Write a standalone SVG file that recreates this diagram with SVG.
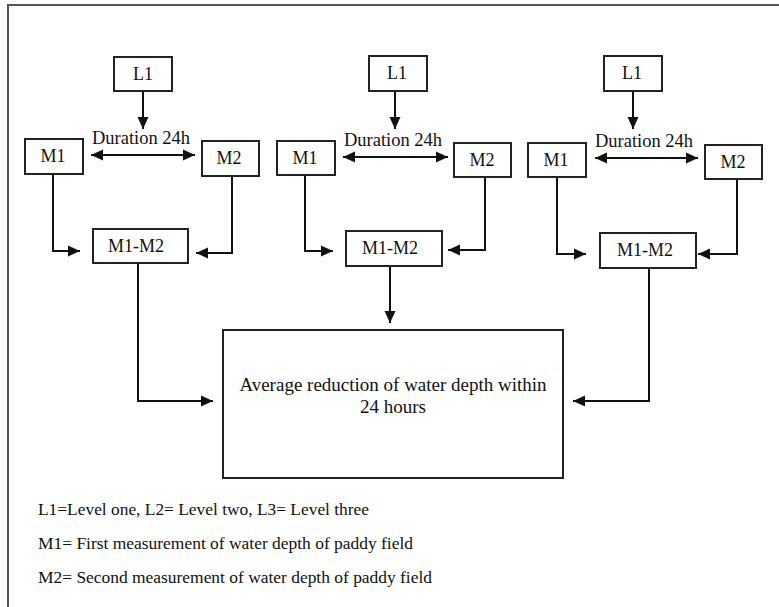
<svg xmlns="http://www.w3.org/2000/svg" width="779" height="607" viewBox="0 0 779 607">
<defs>
<marker id="ah" markerUnits="userSpaceOnUse" markerWidth="13" markerHeight="13" viewBox="0 0 13 13" refX="12" refY="6.5" orient="auto-start-reverse">
<path d="M0,1 L12,6.5 L0,12 z" fill="#111"/>
</marker>
<style>
rect.box{fill:#fff;stroke:#222;stroke-width:2}
.lbl{font-family:"Liberation Serif","Times New Roman",serif;font-size:18px;fill:#111;text-anchor:middle}
.dur{font-family:"Liberation Serif","Times New Roman",serif;font-size:18.5px;fill:#111;text-anchor:middle}
.big{font-family:"Liberation Serif","Times New Roman",serif;font-size:19px;fill:#111;text-anchor:middle}
.leg{font-family:"Liberation Serif","Times New Roman",serif;font-size:16px;fill:#111}
.c{fill:none;stroke:#111;stroke-width:2}
.ca{fill:none;stroke:#111;stroke-width:2;marker-end:url(#ah)}
.cd{fill:none;stroke:#111;stroke-width:2;marker-end:url(#ah);marker-start:url(#ah)}
</style>
</defs>
<path d="M8,607 V5 H779" fill="none" stroke="#555" stroke-width="2"/>

<g id="connectors">
<!-- panel 1 -->
<path class="ca" d="M143,91 V129"/>
<path class="cd" d="M91,155 H195"/>
<path class="ca" d="M53,174 V251 H80"/>
<path class="ca" d="M232,176 V253 H196"/>
<path class="ca" d="M138,263 V401 H213"/>
<!-- panel 2 -->
<path class="ca" d="M395,91 V129"/>
<path class="cd" d="M343,157 H448"/>
<path class="ca" d="M305,175 V251 H333"/>
<path class="ca" d="M485,177 V250 H448"/>
<path class="ca" d="M390,266 V323"/>
<!-- panel 3 -->
<path class="ca" d="M633,91 V129"/>
<path class="cd" d="M595,158 H698"/>
<path class="ca" d="M557,177 V254 H586"/>
<path class="ca" d="M737,179 V254 H698"/>
<path class="ca" d="M649,268 V401 H573"/>
</g>

<g id="duration1"><text class="dur" x="141" y="144">Duration 24h</text></g>
<g id="duration2"><text class="dur" x="393" y="146">Duration 24h</text></g>
<g id="duration3"><text class="dur" x="644" y="147">Duration 24h</text></g>

<g id="L1a"><rect class="box" x="114" y="57" width="58" height="34"/><text class="lbl" x="143" y="80">L1</text></g>
<g id="M1a"><rect class="box" x="25" y="139" width="58" height="35"/><text class="lbl" x="53" y="162">M1</text></g>
<g id="M2a"><rect class="box" x="202" y="141" width="57" height="35"/><text class="lbl" x="229" y="164">M2</text></g>
<g id="M1M2a"><rect class="box" x="93" y="229" width="95" height="34"/><text class="lbl" x="136" y="252">M1-M2</text></g>

<g id="L1b"><rect class="box" x="369" y="56" width="58" height="35"/><text class="lbl" x="397" y="79">L1</text></g>
<g id="M1b"><rect class="box" x="277" y="141" width="58" height="34"/><text class="lbl" x="305" y="164">M1</text></g>
<g id="M2b"><rect class="box" x="454" y="143" width="57" height="34"/><text class="lbl" x="482" y="166">M2</text></g>
<g id="M1M2b"><rect class="box" x="346" y="231" width="96" height="35"/><text class="lbl" x="390" y="254">M1-M2</text></g>

<g id="L1c"><rect class="box" x="604" y="56" width="58" height="35"/><text class="lbl" x="632" y="79">L1</text></g>
<g id="M1c"><rect class="box" x="528" y="143" width="58" height="34"/><text class="lbl" x="556" y="166">M1</text></g>
<g id="M2c"><rect class="box" x="705" y="145" width="57" height="34"/><text class="lbl" x="733" y="168">M2</text></g>
<g id="M1M2c"><rect class="box" x="600" y="233" width="96" height="35"/><text class="lbl" x="645" y="256">M1-M2</text></g>

<g id="result"><rect class="box" x="223" y="330" width="340" height="148"/>
<text class="big" x="393" y="391">Average reduction of water depth within</text>
<text class="big" x="393" y="413">24 hours</text></g>

<g id="legend">
<text class="leg" x="38" y="515" textLength="331" lengthAdjust="spacingAndGlyphs">L1=Level one, L2= Level two, L3= Level three</text>
<text class="leg" x="38" y="549" textLength="375" lengthAdjust="spacingAndGlyphs">M1= First measurement of water depth of paddy field</text>
<text class="leg" x="38" y="583" textLength="394" lengthAdjust="spacingAndGlyphs">M2= Second measurement of water depth of paddy field</text>
</g>
</svg>
